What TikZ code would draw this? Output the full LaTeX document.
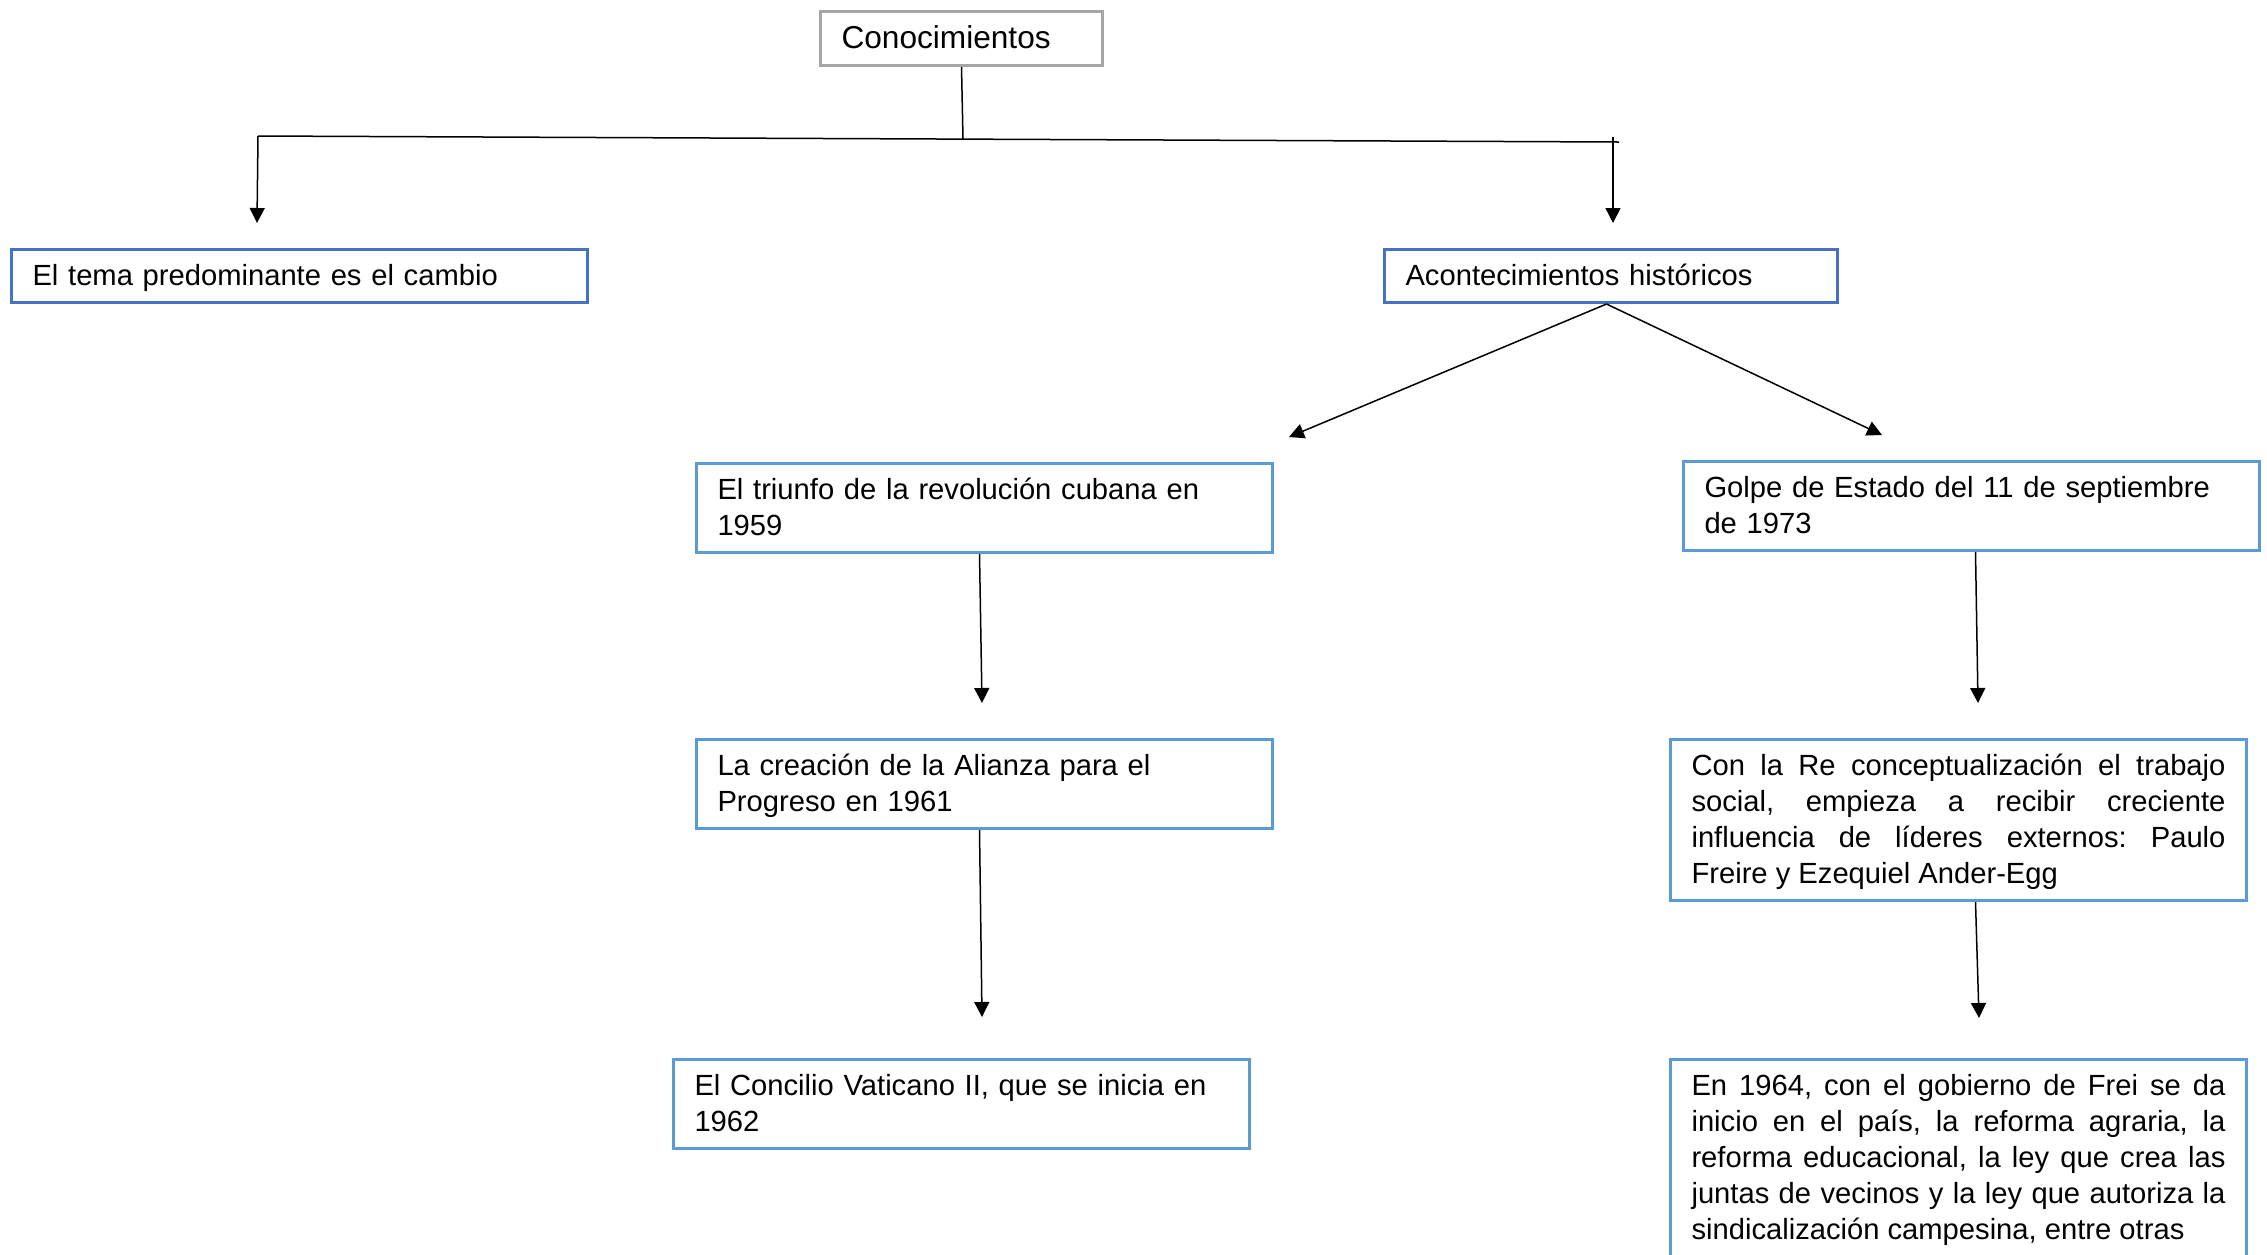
\documentclass[tikz,border=0pt]{standalone}
\usepackage{fontspec}
\setmainfont{Liberation Sans}
\frenchspacing
\usetikzlibrary{arrows.meta}

\definecolor{boxdark}{HTML}{4472C4}
\definecolor{boxlight}{HTML}{5B9BD5}
\definecolor{boxgray}{HTML}{A5A5A5}
\newcommand{\boxstrut}{\rule[-0.7mm]{0pt}{3.3mm}}

\tikzset{
  concept/.style={draw=boxlight, line width=0.3mm, anchor=north west,
    inner xsep=2.1mm, inner ysep=1mm, text width=53.4mm, align=left,
    font=\fontsize{8.3pt}{3.6mm}\selectfont,
    execute at begin node=\boxstrut, execute at end node=\boxstrut},
  topbox/.style={concept, draw=boxdark},
  rootbox/.style={concept, draw=boxgray, inner ysep=1.05mm, text width=24mm,
    font=\fontsize{9pt}{3.6mm}\selectfont},
  link/.style={line width=0.15mm},
  arr/.style={link, -{Triangle[length=1.5mm,width=1.5mm]}}
}

\begin{document}
\begin{tikzpicture}[x=0.1mm, y=-0.1mm]
\useasboundingbox (0,0) rectangle (2267,1254);
\clip (0,0) rectangle (2267,1254);

\node[rootbox] (conoc) at (819,10) {Conocimientos};

\node[topbox] (tema) at (10,248) {El tema predominante es el cambio};
\node[topbox, text width=41.1mm] (acont) at (1383,248) {Acontecimientos históricos};

\node[concept] (triunfo) at (695,462) {El triunfo de la revolución cubana en\\1959};
\node[concept] (creacion) at (695,738) {La creación de la Alianza para el\\Progreso en 1961};
\node[concept] (concilio) at (672,1058) {El Concilio Vaticano II, que se inicia en\\1962};

\node[concept] (golpe) at (1682,460) {Golpe de Estado del 11 de septiembre\\de 1973};
\node[concept, align=justify] (reconc) at (1669,738) {Con la Re conceptualización el trabajo\linebreak social, empieza a recibir creciente\linebreak influencia de líderes externos: Paulo\linebreak Freire y Ezequiel Ander-Egg};
\node[concept, align=justify] (frei) at (1669,1058) {En 1964, con el gobierno de Frei se da\linebreak inicio en el país, la reforma agraria, la\linebreak reforma educacional, la ley que crea las\linebreak juntas de vecinos y la ley que autoriza la\linebreak sindicalización campesina, entre otras};

\coordinate (barL) at (258,136);
\coordinate (barM) at (963,139);
\coordinate (barR) at (1619,142);
\coordinate (tickR) at (1613,137);
\coordinate (tipTema) at (257,223);
\coordinate (tipAcont) at (1613,223);
\coordinate (tipTriunfo) at (1289,437);
\coordinate (tipGolpe) at (1882,435);
\coordinate (tipCreacion) at (982,703);
\coordinate (tipConcilio) at (982,1017);
\coordinate (tipReconc) at (1978,703);
\coordinate (tipFrei) at (1979,1018);

\draw[link] (conoc.south) -- (barM);
\draw[link] (barL) -- (barR);
\draw[arr] (barL) -- (tipTema);
\draw[arr] (tickR) -- (tipAcont);

\draw[arr] ([xshift=-0.45mm]acont.south) -- (tipTriunfo);
\draw[arr] ([xshift=-0.45mm]acont.south) -- (tipGolpe);

\draw[arr] ([xshift=-0.5mm]triunfo.south) -- (tipCreacion);
\draw[arr] ([xshift=-0.5mm]creacion.south) -- (tipConcilio);
\draw[arr] ([xshift=0.4mm]golpe.south) -- (tipReconc);
\draw[arr] ([xshift=1.7mm]reconc.south) -- (tipFrei);

\end{tikzpicture}
\end{document}
